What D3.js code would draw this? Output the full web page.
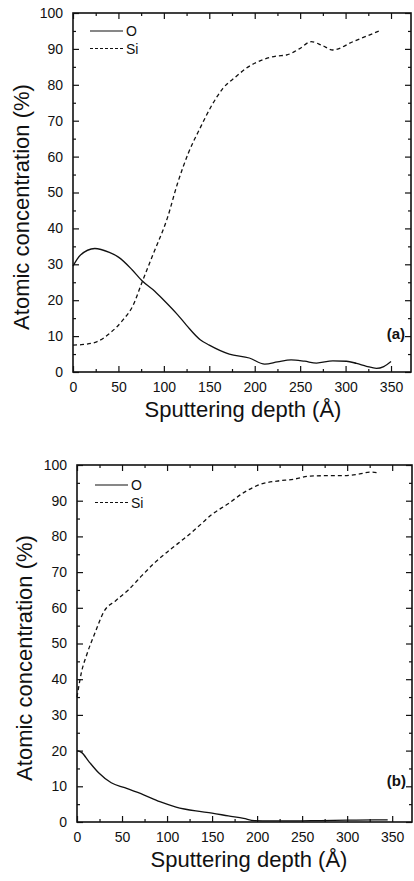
<!DOCTYPE html>
<html>
<head>
<meta charset="utf-8">
<script src="https://cdn.jsdelivr.net/npm/d3@7"></script>
<style>
    body { margin: 0; background: #fff; }
    svg text { font-family: "Liberation Sans", Arial, sans-serif; fill: #111; }
</style>
</head>
<body>
<svg id="chart" width="414" height="881"></svg>
<script>
// panel (a)
const depthA_O = [0, 8, 24, 40, 50, 65, 76, 90, 100, 115, 125, 140, 150, 172, 194, 211, 225, 240, 255, 268, 286, 301, 312, 323, 334, 342, 350];
const oxygenA = [29.5, 32.5, 34.4, 33.3, 32, 28.5, 25.4, 22.5, 20, 16, 13, 9, 7.5, 5, 3.9, 2.2, 2.8, 3.4, 3.0, 2.5, 3.1, 3.0, 2.4, 1.6, 1.0, 1.5, 2.9];
const depthA_Si = [0, 9, 26, 41, 55, 66, 76, 88, 104, 115, 127, 140, 153, 165, 178, 193, 209, 224, 235, 249, 262, 274, 286, 308, 337];
const siliconA = [7.5, 7.6, 8.4, 10.9, 14.5, 18.5, 25, 32.7, 43, 52.5, 61, 68, 74.4, 79, 82, 85, 87, 88, 88.3, 90, 92, 91, 89.7, 92, 95];

// panel (b)
const depthB_O = [0, 5, 13, 24, 38, 53, 74, 92, 110, 132, 150, 168, 185, 197, 215, 240, 270, 300, 330, 345];
const oxygenB = [20, 19.5, 17, 13.8, 11, 9.6, 7.6, 5.7, 4.2, 3.1, 2.5, 1.7, 1.0, 0.4, 0.3, 0.3, 0.4, 0.5, 0.6, 0.6];
const depthB_Si = [0, 5, 11, 20, 30, 43, 57, 72, 87, 104, 122, 138, 149, 167, 186, 205, 222, 240, 259, 277, 296, 314, 325, 336];
const siliconB = [35, 42, 47, 53, 59, 62, 65, 69, 72.8, 76.4, 80, 83.5, 86, 89, 92.4, 94.7, 95.5, 96, 96.9, 97, 97, 97.5, 98, 97.8];

const xTicks = [0, 50, 100, 150, 200, 250, 300, 350];
const yTicks = [0, 10, 20, 30, 40, 50, 60, 70, 80, 90, 100];
const legendNames = ["O", "Si"];
const xLabel = "Sputtering depth (Å)";
const yLabel = "Atomic concentration (%)";

function plotPanel(svg, p) {
    var xScale = d3
        .scaleLinear()
        .domain([0, 372])
        .range([p.left, p.right]);

    var yScale = d3
        .scaleLinear()
        .domain([0, 100])
        .range([p.bottom, p.top]);

    var g = svg.append("g");

    // inward ticks on all four sides
    var xMinor = d3.range(25, 372, 50);
    var yMinor = d3.range(5, 100, 10);

    g.append("g")
        .attr("transform", `translate(0, ${p.bottom})`)
        .call(d3.axisBottom(xScale).tickValues(xTicks).tickSize(-6).tickPadding(10).tickFormat(d3.format("d")))
        .call(a => a.select(".domain").remove())
        .call(a => a.selectAll("text").attr("font-size", 14).attr("dy", "0.71em"));
    g.append("g")
        .attr("transform", `translate(0, ${p.bottom})`)
        .call(d3.axisBottom(xScale).tickValues(xMinor).tickSize(-3).tickFormat(""))
        .call(a => a.select(".domain").remove());
    g.append("g")
        .attr("transform", `translate(0, ${p.top})`)
        .call(d3.axisTop(xScale).tickValues(xTicks).tickSize(-6).tickFormat(""))
        .call(a => a.select(".domain").remove());
    g.append("g")
        .attr("transform", `translate(0, ${p.top})`)
        .call(d3.axisTop(xScale).tickValues(xMinor).tickSize(-3).tickFormat(""))
        .call(a => a.select(".domain").remove());

    g.append("g")
        .attr("transform", `translate(${p.left}, 0)`)
        .call(d3.axisLeft(yScale).tickValues(yTicks).tickSize(-6).tickPadding(10))
        .call(a => a.select(".domain").remove())
        .call(a => a.selectAll("text").attr("font-size", 14));
    g.append("g")
        .attr("transform", `translate(${p.left}, 0)`)
        .call(d3.axisLeft(yScale).tickValues(yMinor).tickSize(-3).tickFormat(""))
        .call(a => a.select(".domain").remove());
    g.append("g")
        .attr("transform", `translate(${p.right}, 0)`)
        .call(d3.axisRight(yScale).tickValues(yTicks).tickSize(-6).tickFormat(""))
        .call(a => a.select(".domain").remove());
    g.append("g")
        .attr("transform", `translate(${p.right}, 0)`)
        .call(d3.axisRight(yScale).tickValues(yMinor).tickSize(-3).tickFormat(""))
        .call(a => a.select(".domain").remove());

    g.selectAll(".tick line").attr("stroke", "#111").attr("stroke-width", 1.2);

    g.append("rect")
        .attr("x", p.left)
        .attr("y", p.top)
        .attr("width", p.right - p.left)
        .attr("height", p.bottom - p.top)
        .attr("fill", "none")
        .attr("stroke", "#111")
        .attr("stroke-width", 1.6);

    var line = d3.line()
        .x(d => xScale(d[0]))
        .y(d => yScale(d[1]))
        .curve(d3.curveMonotoneX);

    g.append("path")
        .datum(d3.zip(p.oDepth, p.oVals))
        .attr("d", line)
        .attr("fill", "none")
        .attr("stroke", "#111")
        .attr("stroke-width", 1.3);

    g.append("path")
        .datum(d3.zip(p.siDepth, p.siVals))
        .attr("d", line)
        .attr("fill", "none")
        .attr("stroke", "#111")
        .attr("stroke-width", 1.3)
        .attr("stroke-dasharray", "4,3");

    // legend
    legendNames.forEach((name, i) => {
        var ly = p.legendY + i * 17.5;
        g.append("line")
            .attr("x1", p.legendX)
            .attr("x2", p.legendX + 33)
            .attr("y1", ly)
            .attr("y2", ly)
            .attr("stroke", "#111")
            .attr("stroke-width", 1.2)
            .attr("stroke-dasharray", i == 0 ? null : "3,2");
        g.append("text")
            .attr("x", p.legendX + 36)
            .attr("y", ly)
            .attr("dy", "0.36em")
            .attr("font-size", 14)
            .text(name);
    });

    g.append("text")
        .attr("x", p.right - 6)
        .attr("y", p.tagY)
        .attr("text-anchor", "end")
        .attr("font-size", 15)
        .attr("font-weight", "bold")
        .text(p.tag);

    g.append("text")
        .attr("x", p.xLabelX)
        .attr("y", p.xLabelY)
        .attr("text-anchor", "middle")
        .attr("font-size", 22)
        .text(xLabel);

    g.append("text")
        .attr("transform", "rotate(-90)")
        .attr("x", -p.yLabelY)
        .attr("y", p.yLabelX)
        .attr("text-anchor", "middle")
        .attr("font-size", 22)
        .text(yLabel);
}

var svg = d3.select("#chart");

plotPanel(svg, {
    left: 73, right: 411, top: 13, bottom: 372,
    oDepth: depthA_O, oVals: oxygenA, siDepth: depthA_Si, siVals: siliconA,
    legendX: 90, legendY: 31, tag: "(a)", tagY: 339,
    xLabelX: 243, xLabelY: 417, yLabelX: 29, yLabelY: 207
});

plotPanel(svg, {
    left: 77, right: 412, top: 465, bottom: 822,
    oDepth: depthB_O, oVals: oxygenB, siDepth: depthB_Si, siVals: siliconB,
    legendX: 95, legendY: 485, tag: "(b)", tagY: 786,
    xLabelX: 249, xLabelY: 867, yLabelX: 32, yLabelY: 658
});
</script>
</body>
</html>
